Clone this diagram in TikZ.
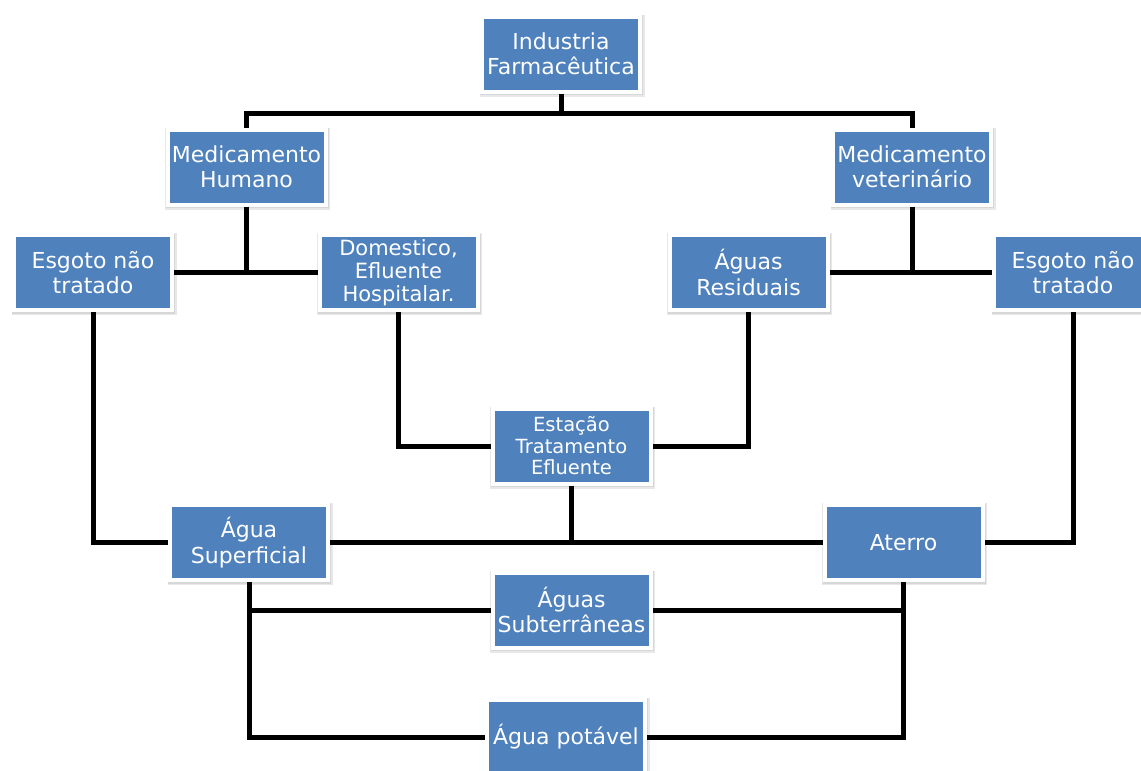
\documentclass[tikz,border=0pt]{standalone}
\usepackage{fontspec}
\setmainfont{DejaVu Sans}
\usetikzlibrary{shadows}
\definecolor{boxblue}{HTML}{4F81BD}
\tikzset{
  box/.style={rectangle, fill=boxblue, draw=white, line width=4pt,
    minimum width=158pt, minimum height=75pt, inner sep=0pt,
    text=white, align=center, font=\fontsize{22}{25.5}\selectfont,
    drop shadow={shadow xshift=1pt, shadow yshift=-1.5pt, fill=black!15,
      draw=black!15, line width=7pt, opacity=0.6},
    drop shadow={shadow xshift=0.5pt, shadow yshift=-1pt, fill=black!20,
      draw=black!20, line width=5pt, opacity=0.6}},
  smallbox/.style={box, font=\fontsize{21}{23}\selectfont},
  tinybox/.style={box, font=\fontsize{19.5}{21.5}\selectfont},
  link/.style={draw=black, line width=5pt}
}
\begin{document}
\begin{tikzpicture}[x=1pt,y=-1pt]
\useasboundingbox[fill=white] (0,0) rectangle (1141,771);

% boxes
\node[box] (ind)  at (561,54)    {Industria\\Farmacêutica};
\node[box] (mh)   at (246.5,167) {Medicamento\\Humano};
\node[box] (mv)   at (912,167)   {Medicamento\\veterinário};
\node[box] (esgL) at (93,272.5)  {Esgoto não\\tratado};
\node[smallbox] (dom) at (398.5,272.5) {Domestico,\\Efluente\\Hospitalar.};
\node[box] (agr)  at (748.5,272.5) {Águas\\Residuais};
\node[box] (esgR) at (1073,272.5) {Esgoto não\\tratado};
\node[tinybox] (est) at (571.5,446) {Estação\\Tratamento\\Efluente};
\node[box] (asup) at (249,542.5) {Água\\Superficial};
\node[box] (ater) at (903.5,542.5) {Aterro};
\node[box] (asub) at (571.5,610) {Águas\\Subterrâneas};
\node[box] (apot) at (566,737)   {Água potável};

\coordinate (top) at (561,113);

% connectors
\draw[link] (ind.south) -- (top);
\draw[link] (mh.north) |- (top) -| (mv.north);
\draw[link] (esgL.east) -- (dom.west);
\draw[link] (mh.south) -- (mh.south |- esgL.east);
\draw[link] (agr.east) -- (esgR.west);
\draw[link] (mv.south) -- (mv.south |- agr.east);
\draw[link] (esgL.south) |- (asup.west);
\draw[link] (dom.south) |- (est.west);
\draw[link] (agr.south) |- (est.east);
\draw[link] (asup.east) -- (ater.west);
\draw[link] (est.south) -- (est.south |- asup.east);
\draw[link] (esgR.south) |- (ater.east);
\draw[link] (asup.south) |- (apot.west);
\draw[link] (ater.south) |- (apot.east);
\draw[link] (asup.south |- asub.west) -- (asub.west);
\draw[link] (asub.east) -- (ater.south |- asub.east);
\end{tikzpicture}
\end{document}
